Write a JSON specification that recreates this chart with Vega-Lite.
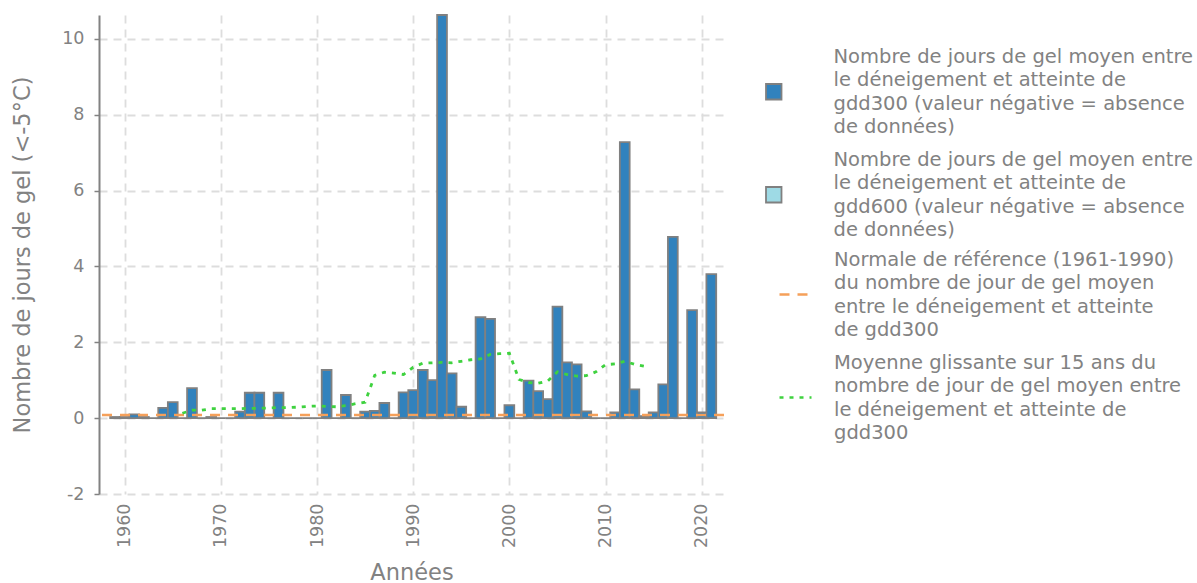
{
  "$schema": "https://vega.github.io/schema/vega-lite/v6.json",
  "width": 625,
  "height": 479,
  "autosize": "none",
  "padding": {"left": 99, "top": 15, "right": 473, "bottom": 89},
  "background": "white",
  "config": {
    "view": {"stroke": null},
    "font": "DejaVu Sans",
    "axis": {
      "labelColor": "#828282",
      "titleColor": "#828282",
      "labelFontSize": 17.5,
      "titleFontSize": 22.5,
      "titleFontWeight": "normal",
      "gridColor": "#dddddd",
      "gridDash": [8, 6],
      "gridWidth": 1.8,
      "tickColor": "#828282",
      "domainColor": "#828282"
    },
    "legend": {
      "labelFontSize": 19.5,
      "labelColor": "#828282",
      "labelLimit": 500,
      "rowPadding": 12
    }
  },
  "datasets": {
    "gdd300": [
      {"annee": 1959, "jours": 0.03}, {"annee": 1960, "jours": 0.03}, {"annee": 1961, "jours": 0.1},
      {"annee": 1962, "jours": 0.03}, {"annee": 1963, "jours": 0}, {"annee": 1964, "jours": 0.27},
      {"annee": 1965, "jours": 0.42}, {"annee": 1966, "jours": 0}, {"annee": 1967, "jours": 0.79},
      {"annee": 1968, "jours": 0}, {"annee": 1969, "jours": 0.03}, {"annee": 1970, "jours": 0},
      {"annee": 1971, "jours": 0}, {"annee": 1972, "jours": 0.17}, {"annee": 1973, "jours": 0.67},
      {"annee": 1974, "jours": 0.67}, {"annee": 1975, "jours": 0}, {"annee": 1976, "jours": 0.67},
      {"annee": 1977, "jours": 0}, {"annee": 1978, "jours": 0}, {"annee": 1979, "jours": 0},
      {"annee": 1980, "jours": 0}, {"annee": 1981, "jours": 1.27}, {"annee": 1982, "jours": 0},
      {"annee": 1983, "jours": 0.61}, {"annee": 1984, "jours": 0}, {"annee": 1985, "jours": 0.17},
      {"annee": 1986, "jours": 0.19}, {"annee": 1987, "jours": 0.4}, {"annee": 1988, "jours": 0},
      {"annee": 1989, "jours": 0.68}, {"annee": 1990, "jours": 0.74}, {"annee": 1991, "jours": 1.27},
      {"annee": 1992, "jours": 1.0}, {"annee": 1993, "jours": 10.63}, {"annee": 1994, "jours": 1.18},
      {"annee": 1995, "jours": 0.3}, {"annee": 1996, "jours": 0}, {"annee": 1997, "jours": 2.66},
      {"annee": 1998, "jours": 2.62}, {"annee": 1999, "jours": 0}, {"annee": 2000, "jours": 0.34},
      {"annee": 2001, "jours": 0}, {"annee": 2002, "jours": 0.99}, {"annee": 2003, "jours": 0.71},
      {"annee": 2004, "jours": 0.5}, {"annee": 2005, "jours": 2.94}, {"annee": 2006, "jours": 1.47},
      {"annee": 2007, "jours": 1.42}, {"annee": 2008, "jours": 0.18}, {"annee": 2009, "jours": 0},
      {"annee": 2010, "jours": 0}, {"annee": 2011, "jours": 0.15}, {"annee": 2012, "jours": 7.28},
      {"annee": 2013, "jours": 0.76}, {"annee": 2014, "jours": 0.05}, {"annee": 2015, "jours": 0.15},
      {"annee": 2016, "jours": 0.89}, {"annee": 2017, "jours": 4.78}, {"annee": 2018, "jours": 0},
      {"annee": 2019, "jours": 2.85}, {"annee": 2020, "jours": 0.15}, {"annee": 2021, "jours": 3.8}
    ],
    "normale": [{"jours": 0.08}],
    "moyenne": [
      {"annee": 1966, "jours": 0.13}, {"annee": 1967, "jours": 0.21}, {"annee": 1968, "jours": 0.21},
      {"annee": 1969, "jours": 0.25}, {"annee": 1970, "jours": 0.25}, {"annee": 1971, "jours": 0.25},
      {"annee": 1972, "jours": 0.25}, {"annee": 1973, "jours": 0.26}, {"annee": 1974, "jours": 0.26},
      {"annee": 1975, "jours": 0.27}, {"annee": 1976, "jours": 0.28}, {"annee": 1977, "jours": 0.28},
      {"annee": 1978, "jours": 0.29}, {"annee": 1979, "jours": 0.31}, {"annee": 1980, "jours": 0.32},
      {"annee": 1981, "jours": 0.31}, {"annee": 1982, "jours": 0.3}, {"annee": 1983, "jours": 0.33},
      {"annee": 1984, "jours": 0.38}, {"annee": 1985, "jours": 0.42}, {"annee": 1986, "jours": 1.13},
      {"annee": 1987, "jours": 1.21}, {"annee": 1988, "jours": 1.19}, {"annee": 1989, "jours": 1.15},
      {"annee": 1990, "jours": 1.34}, {"annee": 1991, "jours": 1.45}, {"annee": 1992, "jours": 1.46},
      {"annee": 1993, "jours": 1.47}, {"annee": 1994, "jours": 1.46}, {"annee": 1995, "jours": 1.5},
      {"annee": 1996, "jours": 1.54}, {"annee": 1997, "jours": 1.56}, {"annee": 1998, "jours": 1.68},
      {"annee": 1999, "jours": 1.7}, {"annee": 2000, "jours": 1.71}, {"annee": 2001, "jours": 1.02},
      {"annee": 2002, "jours": 0.94}, {"annee": 2003, "jours": 0.92}, {"annee": 2004, "jours": 0.98},
      {"annee": 2005, "jours": 1.22}, {"annee": 2006, "jours": 1.15}, {"annee": 2007, "jours": 1.11},
      {"annee": 2008, "jours": 1.12}, {"annee": 2009, "jours": 1.22}, {"annee": 2010, "jours": 1.41},
      {"annee": 2011, "jours": 1.43}, {"annee": 2012, "jours": 1.5}, {"annee": 2013, "jours": 1.42},
      {"annee": 2014, "jours": 1.37}
    ]
  },
  "layer": [
    {
      "data": {"name": "gdd300"},
      "mark": {"type": "bar", "width": 9.8, "stroke": "#808080", "strokeWidth": 1.8},
      "encoding": {
        "x": {
          "field": "annee",
          "type": "quantitative",
          "scale": {"domain": [1957.85, 2021.8], "nice": false, "zero": false},
          "axis": {
            "title": "Années",
            "values": [1960, 1970, 1980, 1990, 2000, 2010, 2020],
            "format": "d",
            "labelAngle": -90,
            "labelPadding": 9,
            "domain": false,
            "ticks": false,
            "titlePadding": 14
          }
        },
        "y": {
          "field": "jours",
          "type": "quantitative",
          "scale": {"domain": [-2, 10.63], "nice": false},
          "axis": {
            "title": "Nombre de jours de gel (<-5°C)",
            "values": [-2, 0, 2, 4, 6, 8, 10],
            "labelExpr": "toString(datum.value)",
            "domainWidth": 2,
            "tickSize": 5,
            "tickWidth": 1.5,
            "labelPadding": 10,
            "titlePadding": 27
          }
        },
        "fill": {
          "datum": "gdd300",
          "type": "nominal",
          "scale": {"domain": ["gdd300", "gdd600"], "range": ["#3182bd", "#9edae5"]},
          "legend": {
            "title": null,
            "orient": "none",
            "legendX": 665,
            "legendY": 67,
            "symbolType": "square",
            "symbolSize": 240,
            "symbolStrokeWidth": 1.8,
            "symbolStrokeColor": "#808080",
            "labelOffset": 50,
            "labelExpr": "datum.value == 'gdd300' ? ['Nombre de jours de gel moyen entre', 'le déneigement et atteinte de', 'gdd300 (valeur négative = absence', 'de données)'] : ['Nombre de jours de gel moyen entre', 'le déneigement et atteinte de', 'gdd600 (valeur négative = absence', 'de données)']",
            "encode": {"labels": {"update": {"lineHeight": {"value": 23.5}, "dy": {"value": -35}}}}
          }
        }
      }
    },
    {
      "data": {"name": "normale"},
      "mark": {"type": "rule", "strokeWidth": 2.5},
      "encoding": {
        "y": {"field": "jours", "type": "quantitative"},
        "stroke": {
          "datum": "normale",
          "type": "nominal",
          "scale": {"domain": ["normale", "moyenne"], "range": ["#f5a05a", "#3fd23f"]},
          "legend": {
            "title": null,
            "orient": "none",
            "legendX": 679,
            "legendY": 262,
            "symbolType": "stroke",
            "symbolSize": 1024,
            "symbolStrokeWidth": 2.5,
            "labelOffset": 21,
            "labelExpr": "datum.value == 'normale' ? ['Normale de référence (1961-1990)', 'du nombre de jour de gel moyen', 'entre le déneigement et atteinte', 'de gdd300'] : ['Moyenne glissante sur 15 ans du', 'nombre de jour de gel moyen entre', 'le déneigement et atteinte de', 'gdd300']",
            "encode": {"labels": {"update": {"lineHeight": {"value": 23.5}, "dy": {"value": -35}}}}
          }
        },
        "strokeDash": {
          "datum": "normale",
          "type": "nominal",
          "scale": {"domain": ["normale", "moyenne"], "range": [[10, 8], [4, 6]]}
        }
      }
    },
    {
      "data": {"name": "moyenne"},
      "mark": {"type": "line", "strokeWidth": 2.8},
      "encoding": {
        "x": {"field": "annee", "type": "quantitative"},
        "y": {"field": "jours", "type": "quantitative"},
        "stroke": {"datum": "moyenne", "type": "nominal"},
        "strokeDash": {"datum": "moyenne", "type": "nominal"}
      }
    }
  ]
}
